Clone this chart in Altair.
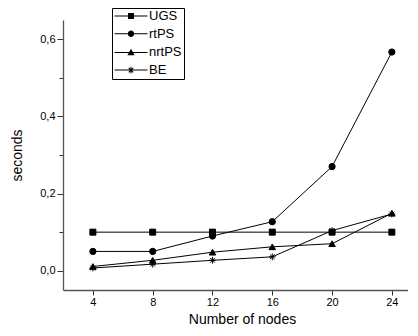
import altair as alt
import pandas as pd

nodes = [4, 8, 12, 16, 20, 24]
series_names = ["UGS", "rtPS", "nrtPS", "BE"]
ugs = [0.1, 0.1, 0.1, 0.1, 0.1, 0.1]
rtps = [0.05, 0.05, 0.09, 0.127, 0.27, 0.567]
nrtps = [0.011, 0.027, 0.048, 0.062, 0.07, 0.149]
be = [0.007, 0.017, 0.027, 0.036, 0.104, 0.147]

x_ticks = [4, 6, 8, 10, 12, 14, 16, 18, 20, 22, 24]
y_ticks = [0.0, 0.1, 0.2, 0.3, 0.4, 0.5, 0.6]

rows = []
for name, vals in zip(series_names, [ugs, rtps, nrtps, be]):
    for n, v in zip(nodes, vals):
        rows.append({"nodes": n, "seconds": v, "series": name})
df = pd.DataFrame(rows)

FONT = "Liberation Sans"

# point shapes (unit square -1..1)
pt_shapes = [
    "square",
    "circle",
    "triangle-up",
    "M-1,0H1M0,-1V1M-0.7,-0.7L0.7,0.7M-0.7,0.7L0.7,-0.7",
]
pt_sizes = [36, 46, 46, 56]

# legend symbols (filled outlines only): line with marker in the middle
LINE = "M-1.1,-0.1H5.5V0.1H-1.1Z"
leg_shapes = [
    LINE + "M1.6,-0.6H2.8V0.6H1.6Z",
    LINE + "M2.84,0A0.64,0.64 0 1,1 1.56,0A0.64,0.64 0 1,1 2.84,0Z",
    LINE + "M2.2,-0.72L2.92,0.56H1.48Z",
    LINE + "M2.1,-0.66H2.3V0.66H2.1Z"
    + "M1.67,-0.39L1.81,-0.53L2.73,0.39L2.59,0.53Z"
    + "M1.67,0.39L2.59,-0.53L2.73,-0.39L1.81,0.53Z",
]

xscale = alt.Scale(domain=[2, 25.08], nice=False, zero=False)
yscale = alt.Scale(domain=[-0.05, 0.65], nice=False, zero=False)

xaxis = alt.Axis(
    values=x_ticks,
    labelExpr="datum.value % 4 == 0 ? datum.label : ''",
    tickSize={"condition": {"test": "datum.value % 4 == 0", "value": 5}, "value": 3},
    title="Number of nodes",
    titleX=179,
    titlePadding=5,
    labelPadding=1,
)
yaxis = alt.Axis(
    values=y_ticks,
    labelExpr="round(datum.value*10) % 2 == 0 ? replace(format(datum.value, '.1f'), '.', ',') : ''",
    tickSize={"condition": {"test": "round(datum.value*10) % 2 == 0", "value": 6}, "value": 4},
    title="seconds",
    titlePadding=15,
    labelPadding=2,
)

base = alt.Chart(df)

lines = base.mark_line(color="black", strokeWidth=1).encode(
    x=alt.X("nodes:Q", scale=xscale, axis=xaxis),
    y=alt.Y("seconds:Q", scale=yscale, axis=yaxis),
    detail="series:N",
)

points = base.mark_point(
    filled=True, fill="black", stroke="black", strokeWidth=1, opacity=1
).encode(
    x=alt.X("nodes:Q", scale=xscale),
    y=alt.Y("seconds:Q", scale=yscale),
    shape=alt.Shape("series:N", scale=alt.Scale(domain=series_names, range=pt_shapes), legend=None),
    size=alt.Size("series:N", scale=alt.Scale(domain=series_names, range=pt_sizes), legend=None),
)

legend_layer = base.transform_filter("false").transform_calculate(
    key="datum.series"
).mark_point(
    filled=True, color="black", opacity=1
).encode(
    x=alt.X("nodes:Q", scale=xscale),
    y=alt.Y("seconds:Q", scale=yscale),
    shape=alt.Shape(
        "key:N",
        scale=alt.Scale(domain=series_names, range=leg_shapes),
        legend=alt.Legend(
            title=None,
            orient="none",
            legendX=49,
            legendY=-12,
            strokeColor="black",
            padding=1.5,
            symbolSize=100,
            symbolFillColor="black",
            symbolOpacity=1,
            rowPadding=3.7,
            labelOffset=22.5,
            labelFontSize=13,
            labelFont=FONT,
            labelColor="black",
        ),
    ),
)

chart = alt.layer(lines, points, legend_layer).resolve_scale(
    shape="independent", size="independent"
).properties(
    width=345,
    height=270,
    autosize=alt.AutoSizeParams(type="none"),
    padding={"left": 55, "top": 12, "right": 0, "bottom": 38},
).configure_view(stroke=None).configure_axis(
    grid=False,
    domainColor="#555555",
    domainWidth=1.3,
    tickColor="#333333",
    tickWidth=1,
    labelFont=FONT,
    labelFontSize=11,
    labelColor="black",
    titleFont=FONT,
    titleFontSize=14,
    titleFontWeight="normal",
    titleColor="black",
)

chart.save("out.html", embed_options={"renderer": "svg", "actions": False})
